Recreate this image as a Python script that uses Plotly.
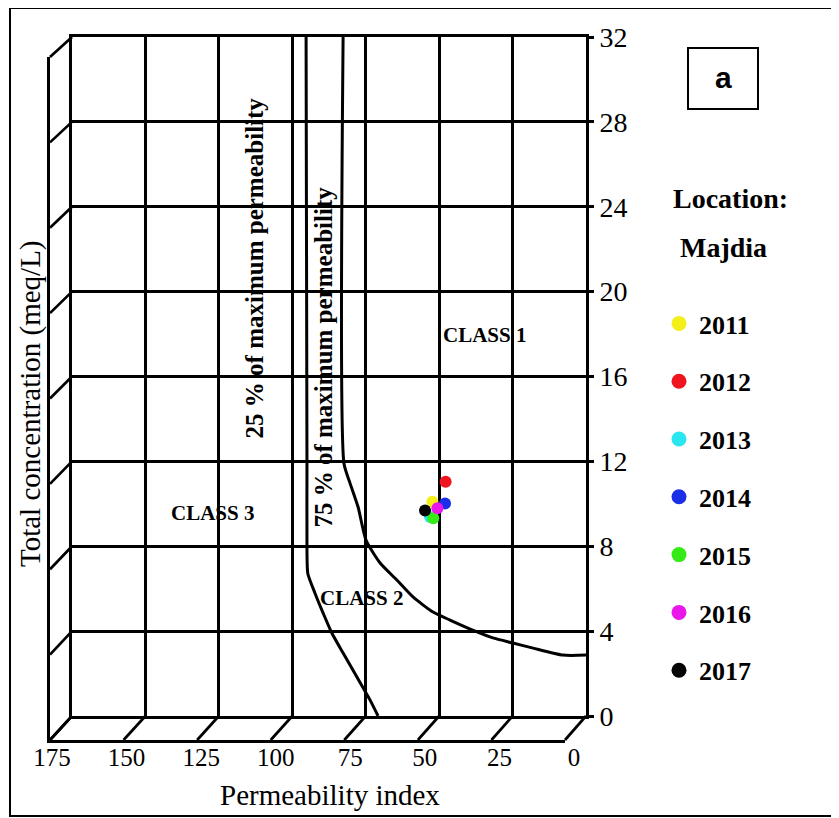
import plotly.graph_objects as go

# ---------------- data ----------------
years = ["2011", "2012", "2013", "2014", "2015", "2016", "2017"]
year_colors = ["#f4ef18", "#f0141e", "#2ae6f0", "#1c2fe8", "#36ea16", "#ea16ea", "#050505"]
perm_index = [52.3, 47.8, 53.1, 48.0, 52.0, 50.6, 54.8]
total_conc = [10.10, 11.04, 9.38, 10.02, 9.32, 9.79, 9.68]
draw_order = [2, 4, 0, 3, 1, 6, 5]

pi_ticks = [175, 150, 125, 100, 75, 50, 25, 0]
tc_ticks = [0, 4, 8, 12, 16, 20, 24, 28, 32]

curve25_pi = [95.3, 95.0, 95.0, 94.7, 92.3, 89.5, 86.5, 82.7, 78.0, 73.5, 70.8]
curve25_tc = [32.0, 11.9, 7.8, 6.7, 5.8, 4.85, 3.9, 2.97, 1.84, 0.75, 0.0]
curve75_pi = [82.7, 82.4, 80.4, 77.6, 74.9, 70.1, 64.4, 58.9, 52.1, 46.3, 37.1, 31.7, 24.9, 18.0, 7.8, 0.0]
curve75_tc = [32.0, 11.9, 11.0, 9.85, 8.29, 7.21, 6.41, 5.61, 4.90, 4.52, 3.96, 3.68, 3.44, 3.20, 2.87, 2.87]

class_labels = ["CLASS 1", "CLASS 2", "CLASS 3"]
class_pi = [34.4, 76.3, 127.0]
class_tc = [17.96, 5.56, 9.57]

# ---------------- geometry (layout, page pixels) ----------------
OFF = 8                                  # default body margin of the page
PAGE_W, PAGE_H = 839, 818
W, H = PAGE_W - OFF, PAGE_H - OFF
L, R, T, B = 50, 586, 37, 740            # paper area in page px
PW, PH = R - L, B - T
FRONT_X = (72, 586)
FRONT_Y = (716, 37)
BACK_X = (50, 565)
BACK_Y = (740, 57)
LABEL_X = (52, 574)


def PX(px):
    return (px - L) / PW


def PY(py):
    return (B - py) / PH


xdom_f = [PX(FRONT_X[0]), PX(FRONT_X[1])]
ydom_f = [PY(FRONT_Y[0]), PY(FRONT_Y[1])]
xdom_b = [PX(BACK_X[0]), PX(BACK_X[1])]
ydom_b = [PY(BACK_Y[0]), PY(BACK_Y[1])]
xdom_l = [PX(LABEL_X[0]), PX(LABEL_X[1])]

XR = [175, 0]
YR = [0, 32]


def ax_to_paper(v, dom, rng):
    return dom[0] + (v - rng[0]) / (rng[1] - rng[0]) * (dom[1] - dom[0])


SERIF = "Liberation Serif"
LW = 2.7

fig = go.Figure()

# boundary curves
for cx, cy in ((curve25_pi, curve25_tc), (curve75_pi, curve75_tc)):
    fig.add_trace(go.Scatter(x=cx, y=cy, mode="lines",
                             line=dict(color="black", width=3, shape="spline", smoothing=0.6),
                             showlegend=False, hoverinfo="skip"))

# data points
for i in draw_order:
    fig.add_trace(go.Scatter(x=[perm_index[i]], y=[total_conc[i]], mode="markers",
                             marker=dict(size=12, color=year_colors[i]),
                             name=years[i], legendgroup=years[i], showlegend=False))
# legend entries
for i in range(len(years)):
    fig.add_trace(go.Scatter(x=[None], y=[None], mode="markers",
                             marker=dict(size=15, color=year_colors[i]),
                             name="<b>%s</b>" % years[i], legendgroup=years[i], showlegend=True))

# back plane axes (edges) and label axis
fig.add_trace(go.Scatter(x=[None], y=[None], xaxis="x2", yaxis="y2", showlegend=False, hoverinfo="skip"))
fig.add_trace(go.Scatter(x=[None], y=[None], xaxis="x3", yaxis="y2", showlegend=False, hoverinfo="skip"))

shapes = []
for v in pi_ticks:
    shapes.append(dict(type="line", xref="paper", yref="paper",
                       x0=ax_to_paper(v, xdom_f, XR), y0=ydom_f[0],
                       x1=ax_to_paper(v, xdom_b, XR), y1=ydom_b[0],
                       line=dict(color="black", width=LW)))
for t in tc_ticks:
    shapes.append(dict(type="line", xref="paper", yref="paper",
                       x0=xdom_f[0], y0=ax_to_paper(t, ydom_f, YR),
                       x1=xdom_b[0], y1=ax_to_paper(t, ydom_b, YR),
                       line=dict(color="black", width=LW)))
shapes.append(dict(type="rect", xref="paper", yref="paper",
                   x0=PX(10), x1=PX(837), y0=PY(816), y1=PY(8),
                   line=dict(color="black", width=2)))
shapes.append(dict(type="rect", xref="paper", yref="paper",
                   x0=PX(688), x1=PX(758), y0=PY(109), y1=PY(48),
                   line=dict(color="black", width=2)))

annotations = []


def ann(text, x, y, size, family=SERIF, ref="paper", angle=0):
    annotations.append(dict(text=text, xref=ref if ref == "paper" else "x",
                            yref=ref if ref == "paper" else "y", x=x, y=y, showarrow=False,
                            textangle=angle, font=dict(family=family, size=size, color="black"),
                            xanchor="center", yanchor="middle"))


ann("<b>a</b>", PX(723), PY(78), 30, family="Liberation Sans")
ann("<b>Location:</b>", PX(730), PY(199), 28)
ann("<b>Majdia</b>", PX(723), PY(247), 28)
ann("Permeability index", PX(330), PY(795), 29)
ann("Total concentration (meq/L)", PX(30), PY(404), 29, angle=-90)
ann("<b>25 % of maximum permeability</b>", 113.0, 21.1, 25, ref="data", angle=-90)
ann("<b>75 % of maximum permeability</b>", 89.5, 16.9, 25, ref="data", angle=-90)
for lab, xv, yv in zip(class_labels, class_pi, class_tc):
    ann("<b>%s</b>" % lab, xv, yv, 21, ref="data")

fig.update_layout(
    width=W, height=H,
    margin=dict(l=L - OFF, r=W - (R - OFF), t=T - OFF, b=H - (B - OFF), pad=0),
    paper_bgcolor="white", plot_bgcolor="rgba(0,0,0,0)",
    font=dict(family=SERIF, color="black"),
    xaxis=dict(domain=xdom_f, range=XR, anchor="y", showgrid=True, gridcolor="black", gridwidth=LW,
               tickvals=pi_ticks, showticklabels=False, ticks="", zeroline=False,
               showline=True, linecolor="black", linewidth=LW, mirror=True),
    yaxis=dict(domain=ydom_f, range=YR, anchor="x", side="right", showgrid=True, gridcolor="black",
               gridwidth=LW, tickvals=tc_ticks, ticks="outside", ticklen=5, tickwidth=LW, tickcolor="black",
               tickfont=dict(family=SERIF, size=28, color="black"), ticklabelstandoff=0,
               zeroline=False, showline=True, linecolor="black", linewidth=LW, mirror=True),
    xaxis2=dict(domain=xdom_b, range=XR, anchor="y2", showgrid=False, showticklabels=False,
                ticks="", zeroline=False, showline=True, linecolor="black", linewidth=LW),
    xaxis3=dict(domain=xdom_l, range=XR, anchor="y2", showgrid=False, tickvals=pi_ticks,
                ticks="", tickfont=dict(family=SERIF, size=25, color="black"), zeroline=False,
                ticklabelstandoff=0, showline=False),
    yaxis2=dict(domain=ydom_b, range=YR, anchor="x2", showgrid=False, showticklabels=False,
                ticks="", zeroline=False, showline=True, linecolor="black", linewidth=LW),
    legend=dict(x=PX(659), y=PY(300), xanchor="left", yanchor="top",
                font=dict(family=SERIF, size=26, color="black"), bgcolor="rgba(0,0,0,0)",
                traceorder="grouped", tracegroupgap=21, itemwidth=30),
    shapes=shapes,
    annotations=annotations,
    showlegend=True,
)

fig.write_html("out.html")
